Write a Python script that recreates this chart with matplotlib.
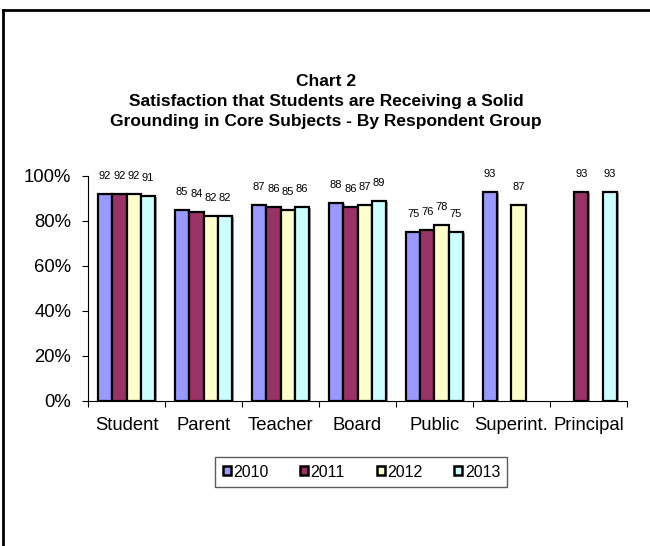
import numpy as np
import matplotlib
matplotlib.use('Agg')
import matplotlib.pyplot as plt
import matplotlib.patheffects as pe
from matplotlib.lines import Line2D
from matplotlib.ticker import FixedLocator, PercentFormatter

plt.rcParams['font.family'] = ['Liberation Sans', 'DejaVu Sans']

# survey results per respondent group (percent satisfied), nan = not surveyed
groups = ['Student', 'Parent', 'Teacher', 'Board', 'Public', 'Superint.', 'Principal']
years = ['2010', '2011', '2012', '2013']
y2010 = [92, 85, 87, 88, 75, 93, np.nan]
y2011 = [92, 84, 86, 86, 76, np.nan, 93]
y2012 = [92, 82, 85, 87, 78, 87, np.nan]
y2013 = [91, 82, 86, 89, 75, np.nan, 93]
colors = ['#9999FF', '#993366', '#FFFFCC', '#CCFFFF']

title_lines = ['Chart 2',
               'Satisfaction that Students are Receiving a Solid',
               'Grounding in Core Subjects - By Respondent Group']


def draw_bars(ax, x, series, width):
    '''
    Draws one bar per year in every group, with the value above it.
    '''
    shadow = [pe.SimplePatchShadow(offset=(1.2, -0.6), shadow_rgbFace='#7f7f7f',
                                   alpha=0.8), pe.Normal()]
    for i, (vals, col, yr) in enumerate(zip(series, colors, years)):
        offset = (i - 1.5) * width
        vals = np.array(vals, dtype=float)
        keep = ~np.isnan(vals)
        bars = ax.bar(x[keep] + offset, vals[keep] / 100, width,
                      color=col, edgecolor='black', linewidth=1.6,
                      label=yr, zorder=3)
        for b, v in zip(bars, vals[keep]):
            b.set_path_effects(shadow)
            ax.annotate('%d' % v, (b.get_x() + b.get_width() / 2, b.get_height()),
                        xytext=(0, 13), textcoords='offset points',
                        ha='center', va='center', fontsize=8)


def run():
    fig = plt.figure(figsize=(6.5, 5.46), dpi=100)
    ax = fig.add_axes([0.1354, 0.2661, 0.8292, 0.4116])

    x = np.arange(len(groups))
    draw_bars(ax, x, [y2010, y2011, y2012, y2013], 0.185)

    ax.set_xlim(-0.5, len(groups) - 0.5)
    ax.set_ylim(0, 1)
    ax.yaxis.set_major_locator(FixedLocator(np.linspace(0, 1, 6)))
    ax.yaxis.set_major_formatter(PercentFormatter(1.0, decimals=0))

    # category names centred, tick marks on the group boundaries
    ax.set_xticks(x)
    ax.set_xticklabels(groups)
    ax.set_xticks(np.arange(len(groups) + 1) - 0.5, minor=True)
    ax.tick_params(axis='x', which='major', length=0, pad=12, labelsize=13.3)
    ax.tick_params(axis='x', which='minor', length=4, width=0.8, direction='out')
    ax.tick_params(axis='y', length=4, width=0.8, pad=8, labelsize=13.3)

    for side in ['top', 'right']:
        ax.spines[side].set_visible(False)
    for side in ['left', 'bottom']:
        ax.spines[side].set_linewidth(0.8)

    # three title lines, bold
    for line, ty in zip(title_lines, [0.8516, 0.8150, 0.7766]):
        fig.text(0.502, ty, line, ha='center', va='center', fontsize=12.5,
                 fontweight='bold')

    leg = fig.legend(loc='center', bbox_to_anchor=(0.556, 0.1355), ncol=4,
                     fontsize=11.5, frameon=True, fancybox=False,
                     edgecolor='#333333', handlelength=0.5, handleheight=0.5,
                     handletextpad=0.15, columnspacing=2.0, borderpad=0.45)
    leg.get_frame().set_linewidth(1.0)
    for h in leg.legend_handles:
        h.set_linewidth(1.8)
        h.set_path_effects([])

    # chart frame (top and left edges)
    fig.add_artist(Line2D([3 / 650, 3 / 650], [0, 1 - 10 / 546],
                          transform=fig.transFigure, color='black', linewidth=2))
    fig.add_artist(Line2D([3 / 650, 1], [1 - 10 / 546, 1 - 10 / 546],
                          transform=fig.transFigure, color='black', linewidth=2))

    fig.savefig('out.png', dpi=100)


if __name__ == '__main__':
    run()
